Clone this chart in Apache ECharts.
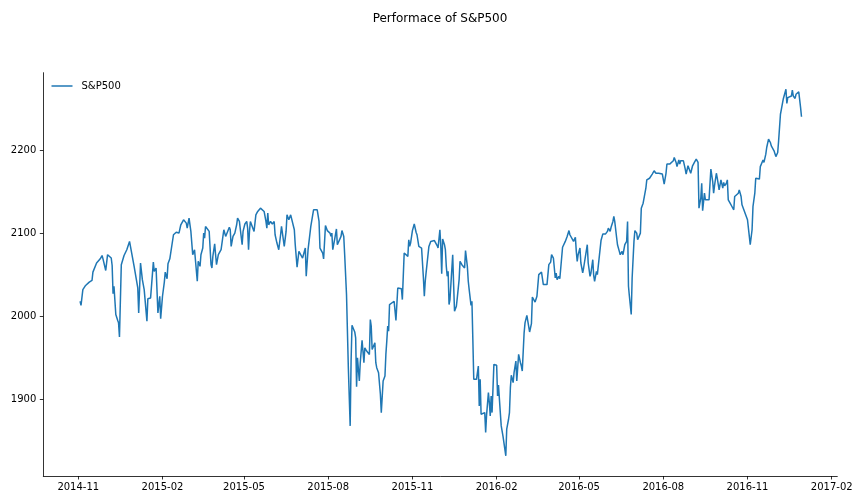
<!DOCTYPE html>
<html lang="en">
<head>
    <meta charset="UTF-8">
    <title>Performace of S&amp;P500</title>
    <script src="https://cdn.jsdelivr.net/npm/echarts@6/dist/echarts.min.js"></script>
    <style>
        html, body {
            margin: 0;
            padding: 0;
            background: #fff;
        }
        #main {
            width: 864px;
            height: 504px;
        }
    </style>
</head>
<body>
<div id="main"></div>
<script type="application/javascript">
    // calendar days counted from 2014-11-01
    var days = [
        2, 3, 5, 8, 12, 15, 16, 18, 20, 24,
        26, 27, 30, 32, 34, 36, 37, 38, 39, 41,
        43, 44, 45, 47, 50, 53, 56, 58, 61, 62,
        65, 66, 68, 70, 72, 75, 76, 79, 81, 82,
        83, 85, 87, 89, 90, 92, 94, 95, 97, 98,
        100, 102, 104, 107, 110, 112, 114, 115, 118, 119,
        121, 123, 125, 127, 130, 131, 133, 134, 136, 137,
        138, 139, 141, 143, 145, 146, 147, 149, 150, 151,
        153, 156, 157, 159, 161, 163, 165, 166, 167, 169,
        171, 173, 174, 176, 177, 179, 180, 182, 184, 185,
        186, 187, 188, 190, 192, 193, 194, 196, 197, 199,
        201, 203, 205, 206, 207, 208, 210, 212, 214, 215,
        217, 219, 221, 222, 224, 225, 227, 228, 230, 232,
        234, 236, 237, 239, 241, 243, 245, 248, 249, 251,
        254, 256, 257, 259, 261, 263, 264, 267, 268, 270,
        271, 272, 275, 276, 277, 278, 280, 282, 283, 285,
        287, 288, 290, 291, 293, 295, 297, 298, 299, 301,
        302, 303, 304, 305, 306, 307, 308, 310, 312, 313,
        315, 316, 318, 319, 320, 321, 324, 325, 326, 328,
        330, 331, 332, 333, 335, 336, 337, 338, 339, 340,
        342, 345, 347, 349, 350, 353, 354, 356, 358, 360,
        361, 362, 363, 365, 367, 369, 370, 372, 374, 375,
        377, 378, 379, 380, 382, 383, 385, 387, 389, 390,
        392, 393, 395, 396, 397, 398, 400, 401, 402, 403,
        404, 405, 406, 408, 409, 410, 411, 413, 414, 416,
        417, 419, 421, 422, 423, 425, 426, 427, 429, 430,
        431, 432, 433, 435, 436, 437, 438, 439, 440, 442,
        444, 445, 446, 448, 449, 450, 451, 452, 454, 456,
        457, 458, 459, 461, 462, 464, 466, 467, 468, 470,
        471, 472, 473, 475, 476, 478, 479, 480, 481, 483,
        484, 485, 487, 488, 490, 491, 492, 493, 495, 496,
        498, 499, 501, 503, 504, 506, 508, 510, 512, 514,
        516, 517, 519, 520, 521, 522, 523, 525, 526, 527,
        529, 531, 532, 534, 536, 537, 539, 541, 543, 544,
        545, 546, 548, 549, 551, 552, 554, 556, 557, 559,
        560, 562, 563, 564, 566, 567, 569, 571, 573, 574,
        576, 578, 579, 581, 582, 584, 585, 586, 588, 589,
        591, 592, 594, 595, 597, 599, 600, 601, 602, 604,
        605, 607, 608, 610, 611, 612, 614, 615, 617, 618,
        620, 621, 623, 624, 626, 627, 629, 630, 631, 633,
        634, 636, 638, 640, 642, 643, 646, 648, 650, 651,
        653, 654, 656, 657, 658, 660, 661, 663, 664, 666,
        668, 669, 671, 673, 675, 677, 678, 680, 681, 682,
        684, 685, 687, 689, 691, 693, 694, 695, 697, 698,
        700, 702, 704, 705, 706, 708, 709, 710, 712, 714,
        716, 717, 719, 721, 722, 724, 725, 727, 729, 731,
        733, 734, 736, 737, 739, 740, 741, 742, 744, 745,
        747, 748, 749, 751, 752, 754, 756, 757, 759, 760,
        762, 764, 765, 767, 768, 770, 772, 773, 774, 775,
        777, 779, 780, 781, 783, 784, 786, 787, 789, 790
    ];

    var closes = [
        2018, 2013, 2032, 2037, 2041, 2043, 2053, 2051, 2064, 2069,
        2073, 2069, 2055, 2074, 2076, 2070, 2061, 2027, 2036, 2002,
        1995, 1992, 1975, 2062, 2073, 2080, 2090, 2091, 2060, 2059,
        2034, 2004, 2064, 2044, 2032, 1994, 2021, 2022, 2024, 2065,
        2054, 2058, 2004, 2024, 1997, 2024, 2041, 2053, 2045, 2063,
        2069, 2067, 2098, 2101, 2100, 2110, 2112, 2116, 2112, 2106,
        2118, 2102, 2074, 2080, 2042, 2066, 2060, 2074, 2082, 2100,
        2094, 2108, 2107, 2102, 2062, 2058, 2072, 2087, 2074, 2062,
        2074, 2080, 2082, 2104, 2096, 2095, 2107, 2104, 2084, 2096,
        2100, 2110, 2118, 2114, 2116, 2086, 2102, 2111, 2114, 2106,
        2080, 2102, 2114, 2108, 2102, 2100, 2122, 2126, 2128, 2130,
        2132, 2126, 2114, 2106, 2124, 2110, 2114, 2111, 2114, 2098,
        2088, 2080, 2098, 2108, 2092, 2084, 2102, 2122, 2116, 2122,
        2124, 2104, 2086, 2059, 2078, 2076, 2070, 2082, 2048, 2080,
        2108, 2110, 2128, 2130, 2128, 2114, 2082, 2076, 2069, 2109,
        2108, 2103, 2100, 2096, 2100, 2080, 2092, 2105, 2086, 2086,
        2096, 2103, 2096, 2074, 2026, 1938, 1868, 1946, 1989, 1990,
        1981, 1974, 1915, 1950, 1952, 1922, 1944, 1971, 1944, 1962,
        1958, 1960, 1954, 1996, 1988, 1960, 1968, 1944, 1938, 1932,
        1906, 1884, 1886, 1922, 1928, 1954, 1970, 1988, 1982, 2014,
        2016, 2018, 1995, 2034, 2035, 2033, 2020, 2076, 2075, 2072,
        2092, 2084, 2088, 2103, 2111, 2101, 2098, 2084, 2082, 2082,
        2046, 2024, 2042, 2053, 2052, 2084, 2090, 2088, 2091, 2090,
        2085, 2082, 2104, 2084, 2051, 2093, 2086, 2080, 2060, 2048,
        2054, 2014, 2020, 2022, 2074, 2038, 2006, 2012, 2022, 2044,
        2066, 2062, 2060, 2058, 2079, 2060, 2042, 2032, 2013, 2018,
        1972, 1924, 1924, 1924, 1924, 1940, 1892, 1924, 1882, 1882,
        1884, 1860, 1881, 1908, 1896, 1880, 1904, 1884, 1942, 1942,
        1941, 1904, 1917, 1884, 1868, 1855, 1854, 1832, 1864, 1876,
        1884, 1914, 1929, 1920, 1932, 1946, 1922, 1938, 1954, 1944,
        1940, 1934, 1980, 1992, 2001, 2003, 2003, 1981, 1991, 2023,
        2021, 2017, 2024, 2050, 2052, 2053, 2038, 2037, 2038, 2062,
        2065, 2074, 2070, 2068, 2046, 2052, 2044, 2048, 2045, 2043,
        2083, 2082, 2090, 2096, 2103, 2098, 2096, 2090, 2095, 2078,
        2066, 2074, 2082, 2064, 2052, 2058, 2059, 2086, 2064, 2048,
        2052, 2068, 2049, 2042, 2054, 2050, 2050, 2091, 2099, 2100,
        2099, 2102, 2106, 2102, 2107, 2114, 2120, 2114, 2095, 2086,
        2078, 2074, 2078, 2074, 2086, 2090, 2114, 2036, 2024, 2002,
        2046, 2090, 2103, 2100, 2092, 2090, 2100, 2130, 2136, 2138,
        2154, 2164, 2164, 2166, 2168, 2171, 2175, 2176, 2172, 2170,
        2172, 2174, 2171, 2159, 2172, 2183, 2183, 2185, 2187, 2191,
        2185, 2180, 2188, 2183, 2187, 2185, 2187, 2177, 2171, 2181,
        2179, 2172, 2181, 2185, 2189, 2185, 2130, 2142, 2160, 2127,
        2148, 2140, 2141, 2140, 2177, 2162, 2148, 2157, 2172, 2166,
        2152, 2164, 2154, 2161, 2157, 2160, 2164, 2140, 2136, 2132,
        2128, 2144, 2144, 2148, 2152, 2144, 2134, 2128, 2128, 2116,
        2096, 2086, 2104, 2132, 2148, 2166, 2168, 2165, 2165, 2180,
        2178, 2188, 2185, 2195, 2203, 2213, 2209, 2205, 2207, 2199,
        2192, 2197, 2211, 2243, 2249, 2261, 2260, 2273, 2256, 2263,
        2261, 2265, 2272, 2265, 2262, 2267, 2268, 2270, 2251, 2240
    ];

    var xTickLabels = ['2014-11', '2015-02', '2015-05', '2015-08', '2015-11',
        '2016-02', '2016-05', '2016-08', '2016-11', '2017-02'];
    var yTicks = [1900, 2000, 2100, 2200];

    var DAY = 86400000;
    var FONT = 'DejaVu Sans';

    function monthStart(label) {
        var p = label.split('-');
        return new Date(+p[0], +p[1] - 1, 1).getTime();
    }

    var base = monthStart('2014-11');
    var seriesData = days.map(function (d, i) {
        return [base + d * DAY, closes[i]];
    });
    var xTicks = xTickLabels.map(monthStart);

    var myChart = echarts.init(document.getElementById('main'), null, {renderer: 'canvas'});

    // x is a plain value axis holding timestamps, labelled at month starts
    var option = {
        animation: false,
        backgroundColor: '#fff',
        title: {
            text: 'Performace of S&P500',
            left: 435,
            top: 8,
            textAlign: 'center',
            textStyle: {
                fontFamily: FONT,
                fontSize: 12,
                fontWeight: 'normal',
                color: '#000'
            }
        },
        legend: {
            left: 51.5,
            top: 81,
            padding: 0,
            itemWidth: 21,
            itemHeight: 1.5,
            textStyle: {
                fontFamily: FONT,
                fontSize: 10,
                color: '#000',
                padding: [0, 0, 0, 4]
            },
            data: [{name: 'S&P500', icon: 'rect'}]
        },
        grid: {
            left: 43.3,
            right: 26.7,
            top: 72.7,
            bottom: 28,
            outerBoundsMode: 'none'
        },
        xAxis: {
            type: 'value',
            scale: true,
            min: base - 38.2 * DAY,
            max: xTicks[xTicks.length - 1] + 6.1 * DAY,
            axisLine: {lineStyle: {color: '#000', width: 0.8}},
            axisTick: {
                customValues: xTicks,
                length: 3.5,
                lineStyle: {color: '#000', width: 0.8}
            },
            axisLabel: {
                customValues: xTicks,
                margin: 6,
                fontFamily: FONT,
                fontSize: 10,
                color: '#000',
                formatter: function (val) {
                    var d = new Date(val);
                    var m = d.getMonth() + 1;
                    return d.getFullYear() + '-' + (m < 10 ? '0' + m : m);
                }
            },
            splitLine: {show: false}
        },
        yAxis: {
            type: 'value',
            min: 1807.7,
            max: 2293,
            axisLine: {show: true, lineStyle: {color: '#000', width: 0.8}},
            axisTick: {
                show: true,
                customValues: yTicks,
                length: 3.5,
                lineStyle: {color: '#000', width: 0.8}
            },
            axisLabel: {
                customValues: yTicks,
                margin: 7,
                fontFamily: FONT,
                fontSize: 10,
                color: '#000',
                formatter: function (val) {
                    return String(val);
                }
            },
            splitLine: {show: false}
        },
        series: [
            {
                name: 'S&P500',
                type: 'line',
                data: seriesData,
                symbol: 'none',
                color: '#1f77b4',
                lineStyle: {color: '#1f77b4', width: 1.5},
                emphasis: {disabled: true}
            }
        ]
    };

    myChart.setOption(option);
</script>
</body>
</html>
